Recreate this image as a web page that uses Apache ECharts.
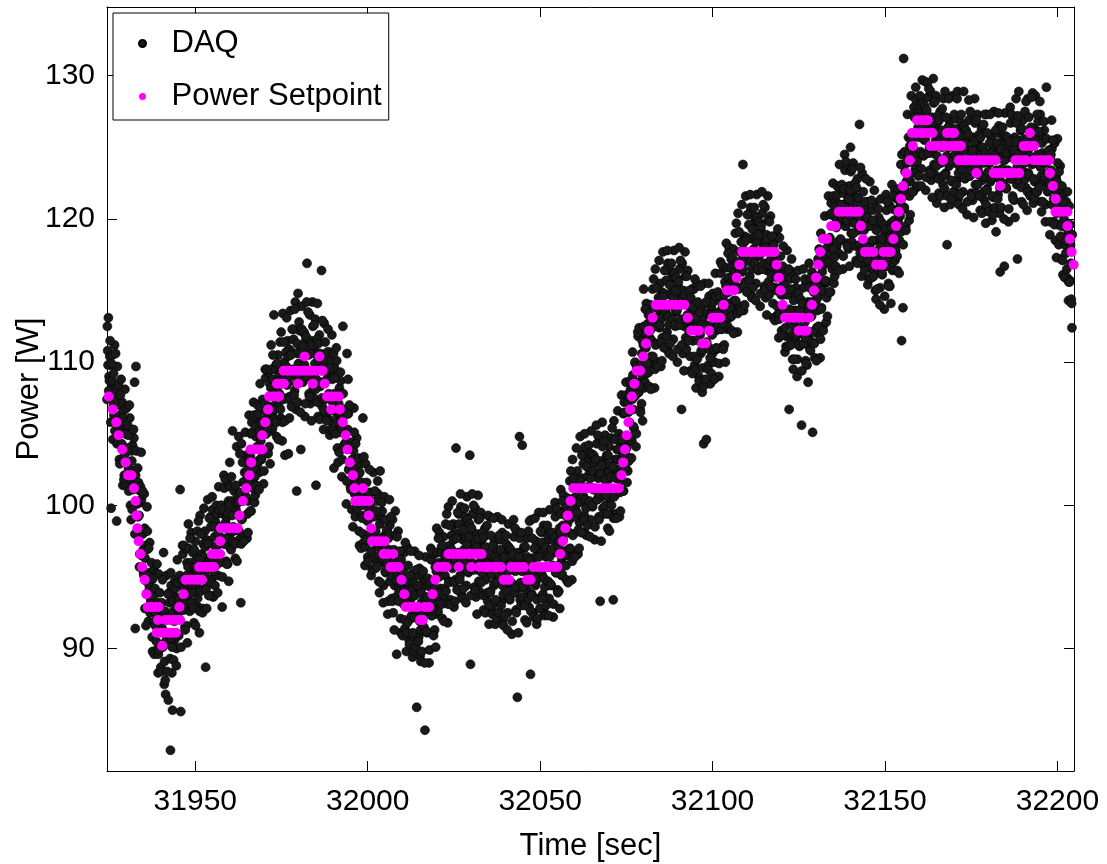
<!DOCTYPE html>
<html>
<head>
<meta charset="utf-8">
<script src="https://cdn.jsdelivr.net/npm/echarts@6/dist/echarts.min.js"></script>
<style>
  html, body { margin: 0; padding: 0; background: #fff; }
  #chart { width: 1107px; height: 864px; }
</style>
</head>
<body>
<div id="chart"></div>
<script>
// Axis ranges and tick spacing
const timeRange = [31924.4, 32204.8];
const powerRange = [81.45, 134.8];
const timeTickStep = 50;
const powerTickStep = 10;

// Power setpoint samples: [time (s), power (W)]
const setpoint = [
  [31924.2,108.5],[31924.9,107.6],[31926.1,106.7],[31927.1,105.8],[31927.8,104.9],[31928.8,103.9],[31929.8,103.0],
  [31930.5,102.1],[31931.5,102.1],[31932.2,101.2],[31932.7,100.3],[31933.0,99.3],[31933.2,98.4],[31933.6,97.5],
  [31934.1,96.6],[31934.6,95.7],[31935.3,94.8],[31935.8,93.8],
  [31936.2,92.9],[31937.2,92.9],[31938.2,92.9],[31939.4,92.9],[31939.2,92.0],
  [31938.8,91.1],[31939.9,91.1],[31941.0,91.1],[31942.2,91.1],[31943.2,91.1],[31944.4,91.1],[31940.4,90.2],
  [31941.4,92.0],[31942.6,92.0],[31943.8,92.0],[31944.8,92.0],[31945.6,92.0],[31945.4,92.9],[31946.6,93.8],
  [31947.2,94.8],[31948.4,94.8],[31949.6,94.8],[31950.8,94.8],[31951.9,94.8],
  [31951.1,95.7],[31952.3,95.7],[31953.5,95.7],[31954.6,95.7],[31955.4,95.7],
  [31954.8,96.6],[31955.9,96.6],[31957.2,96.6],[31957.2,97.5],
  [31957.4,98.4],[31958.6,98.4],[31959.8,98.4],[31961.0,98.4],[31962.3,98.4],
  [31962.8,99.3],[31963.8,100.3],[31964.8,101.2],[31965.7,102.1],[31966.2,103.0],
  [31966.0,103.9],[31967.2,103.9],[31968.4,103.9],[31969.4,103.9],
  [31969.4,104.9],[31970.3,105.8],[31971.1,106.7],
  [31971.4,107.6],[31972.6,107.6],[31973.8,107.6],[31974.3,107.6],
  [31973.7,108.5],[31974.8,108.5],[31975.7,108.5],
  [31975.6,109.4],[31976.8,109.4],[31978.0,109.4],[31979.2,109.4],[31980.4,109.4],[31981.6,109.4],
  [31982.8,109.4],[31983.9,109.4],[31985.2,109.4],[31986.3,109.4],[31986.9,109.4],
  [31979.8,108.5],[31984.1,108.5],[31987.5,108.5],[31981.7,110.4],[31986.0,110.4],
  [31988.2,107.6],[31989.3,107.6],[31990.4,107.6],[31991.6,107.6],[31989.4,106.7],[31991.9,106.7],
  [31992.8,105.8],[31993.6,104.9],[31994.1,103.9],[31994.8,103.0],[31995.7,102.1],[31996.2,101.2],[31998.6,101.2],
  [31996.4,100.3],[31997.5,100.3],[31998.6,100.3],[31999.6,100.3],[32000.4,100.3],
  [32000.3,99.3],[32001.0,98.4],
  [32001.3,97.5],[32002.5,97.5],[32003.7,97.5],[32005.0,97.5],
  [32004.6,96.6],[32005.8,96.6],[32007.4,96.6],
  [32006.6,95.7],[32007.8,95.7],[32009.0,95.7],
  [32009.8,94.8],[32010.6,93.8],
  [32011.0,92.9],[32012.2,92.9],[32013.4,92.9],[32014.6,92.9],[32016.6,92.9],[32017.8,92.9],
  [32015.2,92.0],[32016.0,92.0],
  [32018.8,93.8],[32019.6,94.8],
  [32020.4,95.7],[32021.6,95.7],[32022.8,95.7],
  [32023.4,96.6],[32024.6,96.6],[32025.8,96.6],[32027.0,96.6],[32028.2,96.6],[32029.4,96.6],
  [32030.6,96.6],[32031.8,96.6],[32033.0,96.6],
  [32026.4,95.7],[32030.0,95.7],[32032.4,95.7],
  [32033.8,95.7],[32035.0,95.7],[32036.2,95.7],[32037.4,95.7],[32038.6,95.7],
  [32039.4,94.8],[32040.2,94.8],[32041.0,94.8],
  [32041.6,95.7],[32042.8,95.7],[32044.0,95.7],[32045.2,95.7],
  [32046.2,94.8],[32047.2,94.8],
  [32048.0,95.7],[32049.2,95.7],[32050.4,95.7],[32051.6,95.7],[32052.8,95.7],[32054.0,95.7],[32055.0,95.7],
  [32055.8,96.6],[32056.6,97.5],[32057.3,98.4],[32058.0,99.3],[32058.8,100.3],
  [32059.6,101.2],[32060.8,101.2],[32062.0,101.2],[32063.2,101.2],[32064.4,101.2],[32065.6,101.2],
  [32066.8,101.2],[32068.0,101.2],[32069.2,101.2],[32070.4,101.2],[32071.6,101.2],[32072.8,101.2],
  [32073.6,102.1],[32074.1,103.0],[32074.6,103.9],[32075.1,104.9],[32075.6,105.8],[32076.1,106.7],
  [32076.6,107.6],[32077.3,108.5],[32078.0,109.4],[32079.0,109.4],[32079.9,110.4],[32080.7,111.3],
  [32081.6,112.2],[32082.6,113.1],
  [32083.6,114.0],[32084.8,114.0],[32086.0,114.0],[32087.2,114.0],[32088.4,114.0],[32089.6,114.0],
  [32090.8,114.0],[32091.8,114.0],
  [32092.8,113.1],[32093.8,112.2],[32095.0,112.2],[32096.0,112.2],[32097.0,111.3],[32098.0,111.3],
  [32099.0,112.2],[32100.0,113.1],[32101.2,113.1],[32102.2,113.1],[32103.2,114.0],[32104.2,115.0],
  [32105.2,115.0],[32106.2,115.0],[32107.0,115.9],[32107.8,116.8],
  [32108.6,117.7],[32109.8,117.7],[32111.0,117.7],[32112.2,117.7],[32113.4,117.7],[32114.6,117.7],
  [32115.8,117.7],[32117.0,117.7],[32118.0,117.7],
  [32118.6,116.8],[32119.2,115.9],[32119.7,115.0],[32120.3,114.0],
  [32121.0,113.1],[32122.2,113.1],[32123.4,113.1],[32124.6,113.1],[32126.0,113.1],
  [32125.0,112.2],[32126.4,112.2],[32127.2,112.2],
  [32128.0,113.1],[32128.8,114.0],[32129.4,115.0],[32130.0,115.9],[32130.6,116.8],[32131.2,117.7],
  [32132.0,118.6],[32133.2,118.6],[32134.4,119.5],[32135.6,119.5],
  [32136.6,120.5],[32137.8,120.5],[32139.0,120.5],[32140.2,120.5],[32141.4,120.5],[32142.4,120.5],
  [32143.0,119.5],[32143.6,118.6],
  [32144.2,117.7],[32145.4,117.7],[32146.6,117.7],[32149.6,117.7],[32150.8,117.7],[32151.6,117.7],
  [32147.4,116.8],[32148.4,116.8],[32149.2,116.8],
  [32152.4,118.6],[32153.2,119.5],[32154.0,120.5],[32154.6,121.4],[32155.2,122.3],[32156.2,123.2],
  [32157.2,124.1],[32158.1,125.1],
  [32157.8,126.0],[32159.0,126.0],[32160.4,126.0],[32161.3,126.0],[32162.5,126.0],[32163.7,126.0],
  [32159.3,126.9],[32160.6,126.9],[32161.8,126.9],[32162.4,126.9],
  [32163.2,125.1],[32164.4,125.1],[32165.6,125.1],[32166.8,125.1],[32168.0,125.1],[32169.2,125.1],
  [32170.4,125.1],[32171.6,125.1],[32172.0,125.1],
  [32168.0,126.0],[32169.2,126.0],[32170.0,126.0],
  [32166.8,124.1],[32171.4,124.1],[32172.6,124.1],[32173.8,124.1],[32175.0,124.1],[32176.2,124.1],
  [32177.4,124.1],[32178.6,124.1],[32179.8,124.1],[32181.0,124.1],[32182.1,124.1],
  [32176.5,123.2],[32181.5,123.2],[32182.7,123.2],[32183.9,123.2],[32185.1,123.2],[32186.3,123.2],
  [32187.5,123.2],[32188.9,123.2],[32183.4,122.3],
  [32187.8,124.1],[32189.0,124.1],[32190.2,124.1],[32190.8,124.1],
  [32190.2,125.1],[32191.4,125.1],[32192.6,125.1],[32193.2,125.1],[32192.0,126.0],
  [32193.1,124.1],[32194.3,124.1],[32195.5,124.1],[32196.7,124.1],[32197.6,124.1],
  [32197.8,123.2],[32198.7,122.3],[32199.5,121.4],
  [32199.4,120.5],[32200.6,120.5],[32201.8,120.5],[32202.9,120.5],
  [32202.9,119.5],[32203.6,118.6],[32204.1,117.7],[32204.7,116.8]
];

// DAQ power readings at 10 Hz, stored as two interleaved phases.
// Each phase holds one reading every 0.2 s; one line = 5 s of readings.
const daqStep = 0.2;
const daqStartA = 31924.4;
const daqPowerA = [
  107.4,110.8,113.1,109.0,110.4, 109.8,99.8,108.2,110.5,106.9, 106.3,111.2,104.6,107.6,98.9, 109.7,104.5,107.0,103.2,106.3, 105.4,104.1,107.2,101.4,106.6,
  102.1,108.1,103.8,105.2,101.4, 105.6,102.6,101.3,106.1,100.0, 99.0,103.1,104.2,101.1,104.7, 108.6,91.4,109.7,101.4,100.1, 99.2,101.5,95.7,101.0,100.2,
  100.4,96.5,98.0,95.3,100.8, 92.8,97.2,94.7,99.9,93.9, 91.9,95.3,97.4,93.5,94.9, 94.8,89.8,93.2,95.5,91.9, 91.6,95.2,89.9,92.9,88.3,
  95.2,90.0,92.5,88.7,91.8, 91.4,90.1,96.7,87.5,92.6, 86.8,95.1,90.8,92.2,86.4, 93.9,90.9,82.9,94.4,88.3, 85.7,92.6,93.7,90.6,94.2,
  93.4,90.0,96.2,92.2,90.9, 92.7,101.1,85.6,94.5,93.7, 96.6,92.7,94.2,91.5,97.0, 91.6,96.0,93.5,98.7,92.7, 92.6,96.0,98.1,94.2,95.6,
  96.8,91.8,95.2,97.5,93.9, 94.6,98.2,92.9,95.9,91.1, 99.3,94.1,96.6,92.8,95.9, 96.4,95.1,98.2,88.7,97.6, 94.4,100.4,96.1,97.5,93.7,
  99.2,96.2,94.9,99.7,93.6, 93.7,97.8,98.9,95.8,99.4, 98.5,95.1,101.3,97.3,96.0, 97.6,99.9,92.9,99.4,98.6, 101.2,97.3,98.8,96.1,101.6,
  95.9,100.3,97.8,103.0,97.0, 96.9,100.3,105.2,98.5,99.9, 101.3,96.3,99.7,104.1,98.4, 99.3,104.8,97.6,100.6,93.2, 104.3,99.1,101.6,97.8,100.9,
  101.7,100.4,103.5,97.7,102.9, 100.3,106.3,102.0,103.4,99.6, 105.8,102.8,101.5,106.3,100.2, 100.7,104.8,105.9,102.8,106.4, 105.7,102.3,108.5,104.5,103.2,
  105.0,107.3,101.5,106.8,106.0, 108.9,105.0,106.5,103.8,109.3, 104.1,108.5,106.0,111.2,105.2, 105.4,108.8,113.3,107.0,108.4, 109.8,104.8,108.2,110.5,106.9,
  107.8,111.4,106.1,109.1,104.5, 113.4,107.5,110.0,103.5,109.3, 109.7,108.4,111.5,103.6,110.9, 107.6,113.6,109.3,110.7,106.9, 112.3,109.3,108.0,114.2,106.7,
  101.0,110.6,114.8,108.6,112.2, 111.1,103.9,113.9,109.9,108.6, 109.7,112.0,106.2,111.5,110.7, 116.9,109.0,110.5,107.8,113.3, 107.1,111.5,109.0,114.2,108.2,
  107.5,110.9,113.0,101.4,110.5, 114.1,106.2,109.6,111.9,108.3, 108.6,116.4,106.9,109.9,105.3, 112.7,107.5,110.0,106.2,109.3, 108.9,107.6,110.7,104.9,110.1,
  105.9,111.9,107.6,109.0,102.6, 109.6,106.6,105.3,110.1,104.0, 103.0,107.1,108.2,105.1,108.7, 106.6,103.2,112.5,105.4,104.1, 104.3,106.6,100.1,110.6,105.3,
  106.4,102.5,104.0,101.3,106.8, 99.7,104.1,101.6,106.8,100.8, 99.2,102.6,104.7,100.8,102.2, 102.2,97.2,100.6,102.9,99.3, 99.1,106.1,97.4,100.4,95.8,
  102.9,97.7,100.2,96.4,99.5, 99.1,97.8,100.9,95.1,100.3, 96.3,102.3,98.0,99.4,95.6, 100.3,97.3,96.0,100.8,94.7, 93.9,102.4,99.1,96.0,99.6,
  97.8,94.4,100.6,96.6,95.3, 95.9,98.2,92.4,97.7,96.9, 98.6,94.7,96.2,93.5,99.0, 92.5,96.9,94.4,99.6,93.6, 89.6,96.1,98.2,94.3,95.7,
  96.1,91.1,94.5,96.8,93.2, 93.1,96.7,91.4,94.4,89.8, 97.1,91.9,94.4,90.6,93.7, 93.4,92.1,95.2,89.4,94.6, 90.8,96.8,92.5,93.9,85.9,
  95.1,92.1,90.8,95.6,89.5, 89.1,93.2,94.3,91.2,94.8, 93.6,84.3,96.4,92.4,91.1, 92.5,94.8,89.0,94.3,93.5, 96.2,92.3,93.8,91.1,96.6,
  91.3,95.7,93.2,98.4,92.4, 92.6,96.0,98.1,94.2,95.6, 97.1,92.1,95.5,97.8,94.2, 95.1,98.7,93.4,96.4,91.8, 99.9,94.7,97.2,93.4,96.5,
  96.9,95.6,98.7,92.9,98.1, 94.8,104.0,96.5,97.9,94.1, 99.4,96.4,95.1,99.9,93.8, 93.5,97.6,98.7,95.6,99.2, 97.8,94.4,100.6,96.6,95.3,
  96.3,103.5,88.9,98.1,97.3, 99.4,95.5,97.0,94.3,99.8, 93.6,98.0,95.5,100.7,94.7, 94.0,97.4,99.5,95.6,97.0, 97.7,92.7,96.1,98.4,94.8,
  95.0,98.6,93.3,96.3,91.7, 99.2,94.0,96.5,92.7,95.8, 95.7,94.4,97.5,91.7,96.9, 93.2,99.2,94.9,96.3,92.5, 97.6,94.6,93.3,98.1,92.0,
  91.6,95.7,96.8,93.7,97.3, 95.9,92.5,98.7,94.7,93.4, 94.5,96.8,91.0,96.3,95.5, 97.8,93.9,95.4,92.7,98.2, 86.6,96.7,94.2,104.8,93.4,
  93.0,96.4,104.2,94.6,96.0, 97.0,92.0,95.4,97.7,94.1, 94.6,98.2,92.9,95.9,88.2, 99.0,93.8,96.3,92.5,95.6, 95.7,94.4,97.5,91.7,96.9,
  93.5,99.5,95.2,96.6,92.8, 98.1,95.1,93.8,98.6,92.5, 92.3,96.4,97.5,94.4,98.0, 96.9,93.5,99.7,95.7,94.4, 95.7,98.0,92.2,97.5,96.7,
  99.2,95.3,96.8,94.1,99.6, 94.0,98.4,95.9,101.1,95.1, 95.2,98.6,100.7,96.8,98.2, 99.8,94.8,98.2,100.5,96.9, 98.1,101.7,96.4,99.4,94.8,
  103.2,98.0,100.5,96.7,99.8, 100.6,99.3,102.4,96.6,101.8, 98.8,104.8,100.5,101.9,98.1, 103.6,100.6,99.3,104.1,98.0, 97.9,102.0,103.1,100.0,103.6,
  102.4,99.0,105.2,101.2,99.9, 101.1,103.4,97.6,102.9,102.1, 104.3,100.4,101.9,99.2,104.7, 93.3,103.1,100.6,105.8,99.8, 99.4,102.8,104.9,101.0,102.4,
  103.4,98.4,101.8,104.1,100.5, 101.1,104.7,99.4,102.4,93.4, 105.9,100.7,103.2,99.4,102.5, 103.2,101.9,105.0,99.2,104.4, 101.7,107.7,103.4,104.8,101.0,
  107.2,104.2,102.9,107.7,101.6, 102.4,106.5,107.6,104.5,108.1, 107.9,104.5,110.7,106.7,105.4, 107.6,109.9,104.1,109.4,108.6, 111.8,107.9,109.4,106.7,112.2,
  107.1,111.5,109.0,115.1,108.2, 108.6,112.0,114.1,110.2,111.6, 113.3,108.3,111.7,114.0,110.4, 111.5,115.1,109.8,112.8,108.2, 116.5,111.3,113.8,110.0,113.1,
  113.7,112.4,115.5,109.7,114.9, 111.7,117.7,113.4,114.8,111.0, 116.4,113.4,112.1,116.9,110.8, 110.6,114.7,115.8,112.7,116.3, 115.0,111.6,117.8,113.8,112.5,
  113.5,115.8,110.0,115.3,114.5, 116.5,112.6,114.1,106.7,116.9, 110.6,115.0,112.5,117.7,111.7, 110.9,114.3,116.4,112.5,113.9, 114.4,109.4,112.8,115.1,111.5,
  111.5,115.1,109.8,112.8,108.2, 115.5,110.3,112.8,109.0,112.1, 111.9,110.6,113.7,107.9,113.1, 104.3,115.5,111.2,112.6,104.6, 114.1,111.1,109.8,114.6,108.5,
  108.5,112.6,113.7,110.6,114.2, 113.4,110.0,116.2,112.2,110.9, 112.5,114.8,109.0,114.3,113.5, 116.2,112.3,113.8,111.1,116.6, 111.2,115.6,113.1,118.3,112.3,
  112.5,115.9,118.0,114.1,115.5, 117.2,112.2,115.6,117.9,114.3, 115.4,119.0,113.7,116.7,112.1, 120.4,115.2,117.7,113.9,117.0, 117.6,116.3,123.8,113.6,118.8,
  115.6,121.6,117.3,118.7,114.9, 120.3,117.3,116.0,120.8,114.7, 114.5,118.6,119.7,116.6,120.2, 118.9,115.5,121.7,117.7,116.4, 117.4,119.7,113.9,119.2,118.4,
  120.4,116.5,118.0,115.3,120.8, 114.5,118.9,116.4,121.6,115.6, 114.7,118.1,120.2,116.3,117.7, 118.1,113.1,116.5,118.8,115.2, 115.0,118.6,113.3,116.3,111.7,
  118.7,113.5,116.0,112.2,115.3, 114.7,113.4,116.5,110.7,115.9, 111.8,117.8,113.5,114.9,106.7, 115.8,112.8,111.5,116.3,110.2, 109.5,113.6,114.7,111.6,115.2,
  113.6,110.2,116.4,112.4,111.1, 112.0,114.3,105.6,113.8,113.0, 115.2,111.3,112.8,110.1,115.6, 109.8,114.2,111.7,116.9,110.9, 110.8,114.2,116.3,105.1,113.8,
  115.3,110.3,113.7,116.0,112.4, 113.6,117.2,111.9,114.9,110.3, 119.0,113.8,116.3,112.5,115.6, 116.8,115.5,118.6,112.8,118.0, 115.6,121.6,117.3,118.7,114.9,
  121.1,118.1,116.8,121.6,115.5, 116.0,120.1,121.2,118.1,121.7, 121.0,117.6,123.8,119.8,118.5, 120.0,122.3,116.5,121.8,121.0, 123.4,119.5,121.0,118.3,123.8,
  117.9,122.3,119.8,125.0,119.0, 118.4,121.8,123.9,120.0,121.4, 122.1,117.1,120.5,122.8,119.2, 119.3,126.6,117.6,120.6,116.0, 123.2,118.0,120.5,116.7,119.8,
  119.4,118.1,121.2,115.4,120.6, 116.6,122.6,118.3,119.7,115.9, 120.6,117.6,116.3,121.1,115.0, 114.4,118.5,119.6,116.5,120.1, 118.6,115.2,121.4,117.4,116.1,
  117.2,119.5,113.7,119.0,118.2, 120.6,116.7,118.2,115.5,121.0, 115.3,119.7,117.2,122.4,116.4, 116.5,119.9,122.0,118.1,119.5, 121.4,116.4,119.8,122.1,118.5,
  120.2,123.8,111.5,121.5,113.8, 131.2,120.8,123.3,119.5,122.6, 123.9,122.6,125.7,119.9,125.1, 122.6,128.6,124.3,125.7,121.9, 127.8,124.8,123.5,128.3,122.2,
  122.3,126.4,127.5,124.4,128.0, 126.9,123.5,129.7,125.7,124.4, 125.5,129.6,122.0,127.3,126.5, 128.5,124.6,126.1,123.4,128.9, 122.7,127.1,124.6,129.8,123.8,
  123.1,126.5,128.6,121.1,126.1, 126.8,121.8,125.2,127.5,123.9, 124.1,127.7,122.4,125.4,120.8, 128.9,123.2,125.7,118.2,125.0, 125.0,123.7,126.8,121.0,126.2,
  122.6,128.6,124.3,125.7,121.9, 127.0,124.0,122.7,128.9,121.4, 121.0,125.1,126.2,123.1,126.7, 125.3,121.9,128.9,124.1,122.8, 123.8,126.1,120.3,125.6,124.8,
  126.9,123.0,124.5,121.8,127.3, 121.3,125.7,123.2,128.4,122.4, 121.8,125.2,127.3,123.4,124.8, 125.6,120.6,124.0,126.3,122.7, 123.0,126.6,121.3,124.3,119.7,
  127.3,122.1,124.6,120.8,123.9, 123.9,122.6,125.7,119.9,125.1, 121.5,127.5,123.2,124.6,119.1, 126.0,123.0,121.7,126.5,120.4, 116.3,124.2,125.3,122.2,125.8,
  124.6,116.7,127.4,123.4,122.1, 123.3,125.6,119.8,125.1,124.3, 126.7,122.8,124.3,121.6,127.1, 121.3,125.7,123.2,128.4,122.4, 117.2,125.5,128.9,123.7,125.1,
  126.2,121.2,124.6,126.9,123.3, 123.9,127.5,122.2,125.2,120.6, 128.4,123.2,125.7,121.9,125.0, 125.1,123.8,128.8,121.1,126.3, 122.6,128.6,124.3,125.7,121.9,
  126.8,123.8,122.5,127.3,121.2, 120.5,124.6,125.7,122.6,126.2, 124.4,121.0,129.2,123.2,121.9, 122.4,124.7,118.9,124.2,123.4, 124.9,121.0,122.5,119.8,125.3,
  118.5,122.9,120.4,125.6,119.6, 118.2,121.6,123.7,117.2,121.2, 121.1,116.1,119.5,121.8,118.2, 117.6,121.2,115.9,118.9,114.3, 120.9,115.7,118.2,114.4,112.4
];
const daqStartB = 31924.5;
const daqPowerB = [
  112.5,109.8,108.0,108.7,111.5, 105.8,109.9,108.7,104.6,109.2, 107.2,105.2,110.6,107.9,104.3, 104.4,108.4,105.7,102.9,107.7, 108.8,104.3,106.1,103.1,101.8,
  103.5,105.0,101.4,106.8,104.0, 104.9,101.0,107.0,102.4,101.8, 103.8,99.7,102.4,105.3,101.4, 98.0,102.1,103.8,100.2,102.6, 101.6,99.3,96.6,101.3,103.7,
  96.5,101.0,96.9,95.1,98.4, 96.3,91.6,96.9,98.2,95.1, 97.0,94.3,92.5,93.2,96.0, 90.8,94.9,93.7,89.6,94.2, 92.5,90.5,95.9,93.2,89.6,
  89.9,93.9,91.2,88.4,93.2, 94.8,90.3,92.1,89.1,87.8, 90.5,92.0,88.4,93.8,91.0, 93.2,89.3,95.3,90.7,90.1, 93.3,89.2,91.9,94.8,90.9,
  88.8,92.9,94.6,91.0,93.4, 95.1,92.8,90.1,94.8,97.2, 92.7,97.2,93.1,91.3,94.6, 95.1,90.4,95.7,97.0,93.9, 97.7,95.0,93.2,93.9,96.7,
  92.8,96.9,95.7,91.6,96.2, 95.5,93.5,98.9,96.2,92.6, 94.0,98.0,95.3,92.5,97.3, 99.8,95.3,97.1,94.1,92.8, 95.8,97.3,93.7,99.1,96.3,
  98.5,94.6,100.6,96.0,95.4, 98.5,94.4,97.1,100.0,96.1, 93.9,98.0,99.7,96.1,98.5, 100.0,97.7,95.0,99.7,102.1, 97.3,101.8,97.7,95.9,99.2,
  99.4,94.7,100.0,101.3,98.2, 102.0,99.3,97.5,98.2,101.0, 97.3,101.4,100.2,96.1,100.7, 100.2,98.2,103.6,100.9,97.3, 99.0,103.0,100.3,97.5,102.3,
  105.1,100.6,102.4,99.4,98.1, 101.7,103.2,99.6,105.0,102.2, 105.1,101.2,107.2,102.6,102.0, 105.5,101.4,104.1,107.0,103.1, 101.1,105.2,106.9,103.3,105.7,
  107.4,105.1,102.4,107.1,109.5, 105.0,109.5,105.4,103.6,106.9, 107.6,102.9,108.2,109.5,106.4, 110.5,107.8,106.0,106.7,109.5, 105.8,109.9,108.7,104.6,109.2,
  108.7,106.7,112.1,109.4,105.8, 107.4,111.4,108.7,105.9,110.7, 113.1,108.6,110.4,107.4,106.1, 109.0,110.5,106.9,112.3,109.5, 111.6,107.7,113.7,109.1,108.5,
  111.3,107.2,109.9,112.8,108.9, 106.5,110.6,112.3,108.7,111.1, 112.1,109.8,107.1,111.8,114.2, 109.0,113.5,109.4,107.6,110.9, 110.6,105.9,111.2,112.5,109.4,
  112.6,109.9,108.1,108.8,111.6, 107.2,111.3,110.1,106.0,110.6, 109.5,107.5,112.9,110.2,106.6, 107.4,111.4,108.7,105.9,110.7, 112.3,107.8,109.6,106.6,105.3,
  107.3,108.8,105.2,110.6,107.8, 108.9,105.0,111.0,106.4,105.8, 107.8,103.7,106.4,109.3,105.4, 102.0,106.1,107.8,104.2,106.6, 106.7,104.4,101.7,106.4,108.8,
  102.5,107.0,102.9,101.1,104.4, 103.2,98.5,103.8,105.1,102.0, 104.3,101.6,99.8,100.5,103.3, 98.2,102.3,101.1,97.0,101.6, 100.0,98.0,103.4,100.7,97.1,
  97.6,101.6,98.9,96.1,100.9, 102.5,98.0,99.8,96.8,95.5, 97.7,99.2,95.6,101.0,98.2, 99.6,95.7,101.7,97.1,96.5, 98.7,94.6,97.3,100.2,96.3,
  93.2,97.3,99.0,95.4,97.8, 98.3,96.0,93.3,98.0,100.4, 94.7,99.2,95.1,93.3,96.6, 96.0,91.3,96.6,97.9,94.8, 97.8,95.1,93.3,94.0,96.8,
  92.1,96.2,95.0,90.9,95.5, 94.0,92.0,97.4,94.7,91.1, 91.8,95.8,93.1,90.3,95.1, 96.8,92.3,94.1,91.1,89.8, 92.2,93.7,90.1,95.5,92.7,
  94.4,90.5,96.5,91.9,91.3, 93.9,89.8,92.5,95.4,91.5, 89.0,93.1,94.8,91.2,93.6, 94.9,92.6,89.9,94.6,97.0, 92.3,96.8,92.7,90.9,94.2,
  94.8,90.1,95.4,96.7,93.6, 97.7,95.0,93.2,93.9,96.7, 93.1,97.2,96.0,91.9,96.5, 96.0,94.0,99.4,96.7,93.1, 94.6,98.6,95.9,93.1,97.9,
  100.3,95.8,97.6,94.6,93.3, 96.2,97.7,94.1,99.5,96.7, 98.7,94.8,100.8,96.2,95.6, 98.3,94.2,96.9,99.8,95.9, 93.2,97.3,99.0,95.4,97.8,
  98.7,96.4,93.7,98.4,100.8, 95.5,100.0,95.9,94.1,97.4, 97.1,92.4,97.7,99.0,95.9, 99.1,96.4,94.6,95.3,98.1, 93.7,97.8,96.6,92.5,97.1,
  95.9,93.9,99.3,96.6,93.0, 93.9,97.9,95.2,92.4,97.2, 99.1,94.6,96.4,93.4,92.1, 94.6,96.1,92.5,97.9,95.1, 96.9,93.0,99.0,94.4,93.8,
  96.4,92.3,95.0,97.9,94.0, 91.3,95.4,97.1,93.5,95.9, 96.9,94.6,91.9,96.6,99.0, 93.9,98.4,94.3,92.5,95.8, 95.8,91.1,96.4,97.7,94.6,
  98.1,95.4,93.6,94.3,97.1, 93.0,97.1,95.9,91.8,96.4, 95.5,93.5,98.9,96.2,92.6, 93.7,97.7,95.0,92.2,97.0, 99.1,94.6,96.4,93.4,92.1,
  94.9,96.4,92.8,98.2,95.4, 97.4,93.5,99.5,94.9,94.3, 97.1,93.0,95.7,98.6,94.7, 92.3,96.4,98.1,94.5,96.9, 98.1,95.8,93.1,97.8,100.2,
  95.3,99.8,95.7,93.9,97.2, 97.5,92.8,98.1,99.4,96.3, 100.3,97.6,95.8,96.5,99.3, 95.8,99.9,98.7,94.6,99.2, 99.0,97.0,102.4,99.7,96.1,
  97.9,101.9,99.2,96.4,101.2, 104.0,99.5,101.3,98.3,97.0, 100.2,101.7,98.1,103.5,100.7, 102.9,99.0,105.0,100.4,99.8, 102.7,98.6,101.3,104.2,100.3,
  97.8,101.9,103.6,100.0,102.4, 103.5,101.2,98.5,103.2,105.6, 100.4,104.9,100.8,99.0,102.3, 102.2,97.5,102.8,104.1,101.0, 104.5,101.8,100.0,100.7,103.5,
  99.4,103.5,102.3,98.2,102.8, 102.0,100.0,105.4,102.7,99.1, 100.6,104.6,101.9,99.1,103.9, 106.6,102.1,103.9,100.9,99.6, 103.1,104.6,101.0,106.4,103.6,
  106.5,102.6,108.6,104.0,103.4, 107.2,103.1,105.8,108.7,104.8, 103.3,107.4,109.1,105.5,107.9, 110.0,107.7,105.0,109.7,112.1, 107.9,112.4,108.3,106.5,109.8,
  110.6,105.9,111.2,112.5,109.4, 113.7,111.0,109.2,109.9,112.7, 109.3,113.4,112.2,108.1,112.7, 112.4,110.4,115.8,113.1,109.5, 111.2,115.2,112.5,109.7,114.5,
  117.1,112.6,114.4,111.4,110.1, 113.1,114.6,111.0,116.4,113.6, 115.7,111.8,117.8,113.2,112.6, 115.4,111.3,114.0,116.9,113.0, 110.4,114.5,116.2,112.6,115.0,
  115.9,113.6,110.9,115.6,118.0, 112.6,117.1,113.0,111.2,114.5, 114.1,109.4,114.7,116.0,112.9, 116.0,113.3,111.5,112.2,115.0, 110.4,114.5,113.3,109.2,113.8,
  112.4,110.4,115.8,113.1,109.5, 110.2,114.2,111.5,108.7,113.5, 115.3,110.8,112.6,109.6,108.3, 110.9,112.4,108.8,114.2,111.4, 113.4,109.5,115.5,110.9,110.3,
  113.3,109.2,111.9,114.8,110.9, 108.8,112.9,114.6,111.0,113.4, 114.9,112.6,109.9,114.6,117.0, 112.3,116.8,112.7,110.9,114.2, 114.7,110.0,115.3,116.6,113.5,
  117.6,114.9,113.1,113.8,116.6, 113.2,117.3,116.1,112.0,116.6, 116.3,114.3,119.7,117.0,113.4, 115.1,119.1,116.4,113.6,118.4, 121.0,116.5,118.3,115.3,114.0,
  117.0,118.5,114.9,120.3,117.5, 119.6,115.7,121.7,117.1,116.5, 119.3,115.2,117.9,120.8,116.9, 114.3,118.4,120.1,116.5,118.9, 119.8,117.5,114.8,119.5,121.9,
  116.5,121.0,116.9,115.1,118.4, 118.0,113.3,118.6,119.9,116.8, 119.8,117.1,115.3,116.0,118.8, 114.1,118.2,117.0,112.9,117.5, 115.9,113.9,119.3,116.6,113.0,
  113.4,117.4,114.7,111.9,116.7, 118.1,113.6,115.4,112.4,111.1, 113.2,114.7,111.1,116.5,113.7, 115.1,111.2,117.2,112.6,112.0, 114.3,110.2,112.9,115.8,111.9,
  109.0,113.1,114.8,111.2,113.6, 114.4,112.1,109.4,114.1,116.5, 111.3,115.8,111.7,109.9,113.2, 113.3,108.6,113.9,115.2,112.1, 115.9,113.2,111.4,112.1,114.9,
  111.3,115.4,114.2,110.1,114.7, 114.5,112.5,117.9,115.2,111.6, 113.7,117.7,115.0,112.2,117.0, 120.2,115.7,117.5,114.5,113.2, 117.0,118.5,114.9,120.3,117.5,
  120.4,116.5,122.5,117.9,117.3, 120.8,116.7,119.4,122.3,118.4, 116.4,120.5,122.2,118.6,121.0, 122.4,120.1,117.4,122.1,124.5, 119.5,124.0,119.9,118.1,121.4,
  121.4,116.7,122.0,123.3,120.2, 123.5,120.8,119.0,119.7,122.5, 118.1,122.2,121.0,116.9,121.5, 120.2,118.2,123.6,120.9,117.3, 117.9,121.9,119.2,116.4,121.2,
  122.8,118.3,120.1,117.1,115.8, 118.0,119.5,115.9,121.3,118.5, 119.9,116.0,122.0,117.4,116.8, 119.2,115.1,117.8,120.7,116.8, 114.0,118.1,119.8,116.2,118.6,
  119.6,117.3,114.6,119.3,121.7, 116.7,121.2,117.1,115.3,118.6, 118.8,114.1,119.4,120.7,117.6, 121.6,118.9,117.1,117.8,120.6, 117.4,121.5,120.3,116.2,120.8,
  121.1,119.1,124.5,121.8,118.2, 120.7,124.7,122.0,119.2,124.0, 127.3,122.8,124.6,121.6,120.3, 124.0,125.5,121.9,127.3,124.5, 127.1,123.2,129.2,124.6,124.0,
  127.1,123.0,125.7,128.6,124.7, 122.3,126.4,128.1,124.5,126.9, 127.9,125.6,122.9,127.6,129.5, 124.6,129.1,125.0,123.2,126.5, 126.2,121.5,126.8,128.1,125.0,
  128.2,125.5,123.7,124.4,127.2, 122.8,126.9,125.7,121.6,126.2, 125.0,123.0,128.4,125.7,122.1, 123.1,127.1,124.4,121.6,126.4, 128.4,123.9,125.7,122.7,121.4,
  124.0,125.5,121.9,127.3,124.5, 126.3,122.4,128.4,123.8,123.2, 125.8,121.7,124.4,127.3,123.4, 120.7,124.8,126.5,122.9,125.3, 126.2,123.9,121.2,125.9,128.3,
  123.0,127.5,123.4,121.6,124.9, 124.8,120.1,125.4,126.7,123.6, 126.9,124.2,122.4,123.1,125.9, 121.6,125.7,124.5,120.4,125.0, 123.9,121.9,127.3,124.6,121.0,
  122.0,126.0,123.3,120.5,125.3, 127.3,122.8,124.6,121.6,120.3, 122.9,124.4,120.8,126.2,123.4, 125.3,121.4,127.4,122.8,122.2, 124.9,120.8,123.5,126.4,122.5,
  120.0,124.1,125.8,122.2,124.6, 125.7,123.4,120.7,125.4,127.8, 122.8,127.3,123.2,121.4,124.7, 124.8,120.1,125.4,126.7,123.6, 127.2,124.5,122.7,123.4,126.2,
  122.2,126.3,125.1,121.0,125.6, 124.8,122.8,128.2,125.5,121.9, 123.1,127.1,124.4,121.6,126.4, 128.5,124.0,125.8,122.8,121.5, 124.0,125.5,121.9,127.3,124.5,
  126.1,122.2,128.2,123.6,123.0, 125.3,121.2,123.9,126.8,122.9, 119.8,123.9,125.6,122.0,124.4, 124.8,122.5,119.8,124.5,126.9, 121.0,125.5,121.4,119.6,122.9,
  122.0,117.3,122.6,123.9,120.8, 123.3,120.6,118.8,119.5,122.3, 117.1,121.2,120.0,115.9,120.5, 118.5,116.5,121.9,119.2,115.6, 115.6,119.6,116.9,114.1,118.9
];

const daqPoints = daqPowerA.map((p, i) => [daqStartA + i * daqStep, p])
  .concat(daqPowerB.map((p, i) => [daqStartB + i * daqStep, p]));

const FONT = "'Liberation Sans', Arial, Helvetica, sans-serif";
const tickTxt = { fontFamily: FONT, fontSize: 30, color: '#000' };
const nameTxt = { fontFamily: FONT, fontSize: 31, color: '#000' };

const chart = echarts.init(document.getElementById('chart'), null, { renderer: 'canvas' });

const boxAxis = {
  axisLine: { show: true, onZero: false, lineStyle: { color: '#000', width: 1 } },
  axisTick: { show: true, inside: true, length: 10, lineStyle: { color: '#000', width: 1 } },
  splitLine: { show: false }
};

chart.setOption({
  animation: false,
  backgroundColor: '#fff',
  grid: {
    left: 107, right: 33, top: 7, bottom: 93,
    containLabel: false,
    outerBoundsMode: 'none'
  },
  legend: {
    left: 113, top: 13,
    orient: 'vertical',
    backgroundColor: '#fff',
    borderColor: '#000', borderWidth: 1,
    padding: [15, 7, 8, 25],
    itemGap: 22,
    itemWidth: 48, itemHeight: 7,
    textStyle: Object.assign({}, nameTxt, { lineHeight: 30 }),
    data: [
      { name: 'DAQ', icon: 'circle' },
      { name: 'Power Setpoint', icon: 'circle' }
    ]
  },
  xAxis: [
    Object.assign({
      type: 'value', position: 'bottom',
      min: timeRange[0], max: timeRange[1],
      minInterval: timeTickStep, maxInterval: timeTickStep,
      name: 'Time [sec]', nameLocation: 'middle', nameGap: 60,
      nameMoveOverlap: false,
      nameTextStyle: nameTxt,
      axisLabel: Object.assign({
        margin: 16, showMinLabel: false, showMaxLabel: false,
        formatter: (v) => String(v)
      }, tickTxt)
    }, boxAxis),
    Object.assign({
      type: 'value', position: 'top',
      min: timeRange[0], max: timeRange[1],
      minInterval: timeTickStep, maxInterval: timeTickStep,
      axisLabel: { show: false }
    }, boxAxis)
  ],
  yAxis: [
    Object.assign({
      type: 'value', position: 'left',
      min: powerRange[0], max: powerRange[1],
      minInterval: powerTickStep, maxInterval: powerTickStep,
      name: 'Power [W]', nameLocation: 'middle', nameGap: 62,
      nameMoveOverlap: false,
      nameTextStyle: nameTxt,
      axisLabel: Object.assign({
        margin: 12, showMinLabel: false, showMaxLabel: false,
        formatter: (v) => String(v)
      }, tickTxt)
    }, boxAxis),
    Object.assign({
      type: 'value', position: 'right',
      min: powerRange[0], max: powerRange[1],
      minInterval: powerTickStep, maxInterval: powerTickStep,
      axisLabel: { show: false }
    }, boxAxis)
  ],
  series: [
    {
      name: 'DAQ',
      type: 'scatter',
      data: daqPoints,
      symbol: 'circle',
      symbolSize: 9,
      large: false,
      itemStyle: { color: '#1a1a1a', borderColor: '#000', borderWidth: 0.6, opacity: 1 },
      emphasis: { disabled: true },
      z: 2
    },
    {
      name: 'Power Setpoint',
      type: 'scatter',
      data: setpoint,
      symbol: 'circle',
      symbolSize: 10,
      itemStyle: { color: '#ff00ff', opacity: 1 },
      emphasis: { disabled: true },
      z: 3
    }
  ]
});
</script>
</body>
</html>
